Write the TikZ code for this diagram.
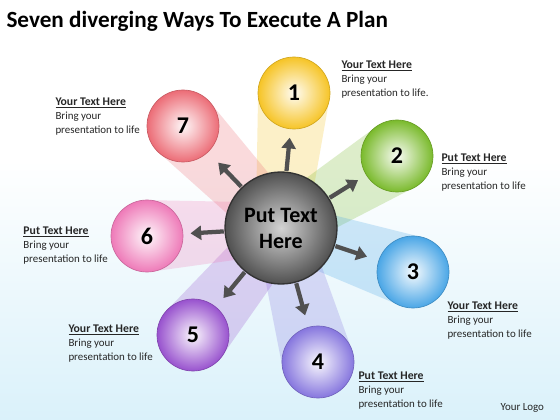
\documentclass[tikz,border=0pt]{standalone}
\usepackage{fontspec}
\setmainfont{Carlito}
\usetikzlibrary{calc,arrows.meta}

\definecolor{yellowball}{RGB}{246,196,38}
\definecolor{greenball}{RGB}{122,186,44}
\definecolor{blueball}{RGB}{74,166,230}
\definecolor{lavenderball}{RGB}{134,118,222}
\definecolor{purpleball}{RGB}{152,82,206}
\definecolor{pinkball}{RGB}{238,122,184}
\definecolor{redball}{RGB}{236,108,118}
\definecolor{hubgray}{RGB}{80,80,80}
\definecolor{arrowgray}{RGB}{80,80,80}
\definecolor{bgblue}{RGB}{218,241,250}

\tikzset{every picture/.style={line width=0.75pt}}
\tikzset{
  ball/.style={circle, minimum size=54pt, inner sep=0pt, draw=#1!85!black, line width=0.5pt,
    inner color=#1!5!white, outer color=#1, font=\bfseries\fontsize{18}{18}\selectfont},
  hub/.style={circle, minimum size=84pt, inner sep=0pt, draw=black!80, line width=1pt,
    inner color=black!17, outer color=hubgray, align=center, font=\bfseries\fontsize{16.5}{19.5}\selectfont},
  ray/.style={fill=#1, fill opacity=0.25, draw=none},
  arr/.style={draw=arrowgray, line width=3.2pt, -{Triangle[length=8pt,width=10.5pt]}},
  lbl/.style={anchor=north west, inner sep=0pt, align=left, font=\fontsize{8.2}{10.5}\selectfont, text=black!85}
}
\newcommand{\hd}[1]{\underline{\fontsize{8.8}{10.5}\selectfont\bfseries #1}}

\begin{document}
\begin{tikzpicture}[x=0.75pt,y=0.75pt,yscale=-1,xscale=1]
		%Background
		\fill [white] (0,0) rectangle (560,160) ;
		\shade [top color=white, bottom color=bgblue] (0,160) rectangle (560,420) ;
		
		%Centres
		\coordinate (pc) at (281,228) ;
		\coordinate (p1) at (294,93) ;
		\coordinate (p2) at (397,156) ;
		\coordinate (p3) at (413,272) ;
		\coordinate (p4) at (318,362) ;
		\coordinate (p5) at (193,335) ;
		\coordinate (p6) at (147,236) ;
		\coordinate (p7) at (183,126) ;
		
		%Rays
		\fill [ray=yellowball] ($(pc)!19pt!90:(p1)$) -- ($(p1)!27pt!-90:(pc)$) -- ($(p1)!27pt!90:(pc)$) -- ($(pc)!19pt!-90:(p1)$) -- cycle ;
		\fill [ray=greenball] ($(pc)!19pt!90:(p2)$) -- ($(p2)!27pt!-90:(pc)$) -- ($(p2)!27pt!90:(pc)$) -- ($(pc)!19pt!-90:(p2)$) -- cycle ;
		\fill [ray=blueball] ($(pc)!19pt!90:(p3)$) -- ($(p3)!27pt!-90:(pc)$) -- ($(p3)!27pt!90:(pc)$) -- ($(pc)!19pt!-90:(p3)$) -- cycle ;
		\fill [ray=lavenderball] ($(pc)!19pt!90:(p4)$) -- ($(p4)!27pt!-90:(pc)$) -- ($(p4)!27pt!90:(pc)$) -- ($(pc)!19pt!-90:(p4)$) -- cycle ;
		\fill [ray=purpleball] ($(pc)!19pt!90:(p5)$) -- ($(p5)!27pt!-90:(pc)$) -- ($(p5)!27pt!90:(pc)$) -- ($(pc)!19pt!-90:(p5)$) -- cycle ;
		\fill [ray=pinkball] ($(pc)!19pt!90:(p6)$) -- ($(p6)!27pt!-90:(pc)$) -- ($(p6)!27pt!90:(pc)$) -- ($(pc)!19pt!-90:(p6)$) -- cycle ;
		\fill [ray=redball] ($(pc)!19pt!90:(p7)$) -- ($(p7)!27pt!-90:(pc)$) -- ($(p7)!27pt!90:(pc)$) -- ($(pc)!19pt!-90:(p7)$) -- cycle ;
		
		%Arrows
		\draw [arr] ($(pc)!43pt!(p1)$) -- ($(pc)!68pt!(p1)$) ;
		\draw [arr] ($(pc)!43pt!(p2)$) -- ($(pc)!68pt!(p2)$) ;
		\draw [arr] ($(pc)!43pt!(p3)$) -- ($(pc)!68pt!(p3)$) ;
		\draw [arr] ($(pc)!43pt!(p4)$) -- ($(pc)!68pt!(p4)$) ;
		\draw [arr] ($(pc)!43pt!(p5)$) -- ($(pc)!68pt!(p5)$) ;
		\draw [arr] ($(pc)!43pt!(p6)$) -- ($(pc)!68pt!(p6)$) ;
		\draw [arr] ($(pc)!43pt!(p7)$) -- ($(pc)!68pt!(p7)$) ;
		
		%Balls
		\node [hub] (hub) at (pc) {Put Text\\Here} ;
		\node [ball=yellowball] (n1) at (p1) {1} ;
		\node [ball=greenball] (n2) at (p2) {2} ;
		\node [ball=blueball] (n3) at (p3) {3} ;
		\node [ball=lavenderball] (n4) at (p4) {4} ;
		\node [ball=purpleball] (n5) at (p5) {5} ;
		\node [ball=pinkball] (n6) at (p6) {6} ;
		\node [ball=redball] (n7) at (p7) {7} ;
		
		%Texts
		\node [anchor=base west, inner sep=0pt, font=\bfseries\fontsize{17.4}{17.4}\selectfont] (title) at (6,28) {Seven diverging Ways To Execute A Plan} ;
		\node [lbl] (t1) at (341,60) {\hd{Your Text Here}\\Bring your\\presentation to life.} ;
		\node [lbl] (t2) at (441,153) {\hd{Put Text Here}\\Bring your\\presentation to life} ;
		\node [lbl] (t3) at (447,301) {\hd{Your Text Here}\\Bring your\\presentation to life} ;
		\node [lbl] (t4) at (358,371) {\hd{Put Text Here}\\Bring your\\presentation to life} ;
		\node [lbl] (t5) at (68,324) {\hd{Your Text Here}\\Bring your\\presentation to life} ;
		\node [lbl] (t6) at (23,226) {\hd{Put Text Here}\\Bring your\\presentation to life} ;
		\node [lbl] (t7) at (55,97) {\hd{Your Text Here}\\Bring your\\presentation to life} ;
		\node [anchor=base west, inner sep=0pt, font=\fontsize{8.2}{10}\selectfont, text=black!85] (logo) at (500,410) {Your Logo} ;
		
	\end{tikzpicture}
\end{document}
